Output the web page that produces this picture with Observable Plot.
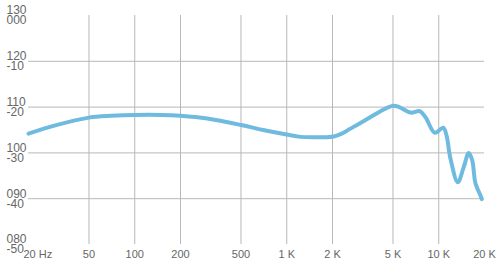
<!DOCTYPE html>
<html>
<head>
<meta charset="utf-8">
<script src="https://cdn.jsdelivr.net/npm/d3@7"></script>
<script src="https://cdn.jsdelivr.net/npm/@observablehq/plot@0.6"></script>
<style>
  html, body { margin: 0; padding: 0; background: #fff; }
</style>
</head>
<body>
<div id="chart"></div>
<script>
// Frequency ticks and labels
const freqTicks = [20, 50, 100, 200, 500, 1000, 2000, 5000, 10000, 20000];
const freqLabels = ["20 Hz", "50", "100", "200", "500", "1 K", "2 K", "5 K", "10 K", "20 K"];
const gridFreqs = [50, 100, 200, 500, 1000, 2000, 5000, 10000];

// Level ticks and labels (two label rows per tick)
const levelTicks = [80, 90, 100, 110, 120, 130];
const levelLabelsTop = ["080", "090", "100", "110", "120", "130"];
const levelLabelsBottom = ["-50", "-40", "-30", "-20", "-10", "000"];
const gridLevels = [90, 100, 110, 120];

// Response curve
const freq = [20, 30, 50, 70, 100, 150, 200, 300, 500, 700, 1000, 1230, 1500, 2040, 2300, 2625, 3385, 4140, 5015, 5500, 6520, 7500, 8180, 9420, 10700, 11250, 11950, 13350, 14600, 15760, 16600, 17450, 18830, 19200];
const level = [104.2, 106.0, 107.7, 108.1, 108.3, 108.3, 108.1, 107.5, 106.1, 105.0, 104.0, 103.5, 103.4, 103.6, 104.2, 105.3, 107.4, 109.1, 110.3, 110.0, 108.8, 109.1, 107.8, 104.4, 105.5, 103.8, 98.7, 93.6, 96.9, 100.0, 98.4, 93.3, 90.7, 89.9];

const data = freq.map((f, i) => ({f, v: level[i]}));
const xTickData = freqTicks.map((t, i) => ({t, label: freqLabels[i]}));
const yTickData = levelTicks.map((t, i) => ({t, top: levelLabelsTop[i], bottom: levelLabelsBottom[i]}));

const chart = Plot.plot({
  width: 500,
  height: 265,
  marginLeft: 28,
  marginRight: 16,
  marginTop: 15,
  marginBottom: 21,
  style: {fontFamily: "'Liberation Sans', Arial, sans-serif", background: "#fff"},
  x: {type: "log", domain: [20, 20000], axis: null},
  y: {domain: [80, 130], axis: null},
  marks: [
    Plot.gridX(gridFreqs, {stroke: "#b8b8b8", strokeOpacity: 1}),
    Plot.gridY(gridLevels, {stroke: "#b8b8b8", strokeOpacity: 1}),
    Plot.text(xTickData.slice(1), {x: "t", text: "label", frameAnchor: "bottom", lineAnchor: "top", dy: 6, fontSize: 11, fill: "#666"}),
    Plot.text(xTickData.slice(0, 1), {x: "t", text: "label", frameAnchor: "bottom", lineAnchor: "top", textAnchor: "start", dx: -5, dy: 6, fontSize: 11, fill: "#666"}),
    Plot.text(yTickData, {y: "t", text: "top", frameAnchor: "left", textAnchor: "start", lineAnchor: "bottom", dx: -22, dy: -1.2, fontSize: 12, fill: "#666"}),
    Plot.text(yTickData, {y: "t", text: "bottom", frameAnchor: "left", textAnchor: "start", lineAnchor: "top", dx: -22, dy: 0.4, fontSize: 12, fill: "#666"}),
    Plot.line(data, {x: "f", y: "v", stroke: "#6fbbdf", strokeWidth: 4, curve: "catmull-rom"})
  ]
});
document.getElementById("chart").appendChild(chart);
</script>
</body>
</html>
